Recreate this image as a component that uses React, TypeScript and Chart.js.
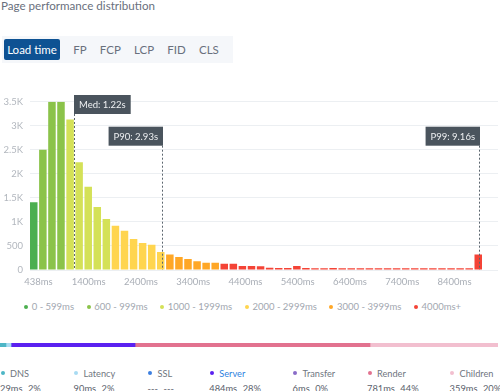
import React, { useEffect, useRef } from "react";
import { Chart, registerables } from "chart.js";

Chart.register(...registerables);

// ---------- Data ----------
const tabLabels = ["Load time", "FP", "FCP", "LCP", "FID", "CLS"];

// histogram bins (bin centre in ms) and page-load counts
const binCenterMs = [
  349, 523, 697, 870, 1044, 1217, 1391, 1564, 1738, 1912,
  2085, 2259, 2432, 2606, 2779, 2953, 3127, 3300, 3474, 3647,
  3821, 3994, 4168, 4341, 4515, 4689, 4862, 5036, 5209, 5383,
  5556, 5730, 5904, 6077, 6251, 6424, 6598, 6771, 6945, 7119,
  7292, 7466, 7639, 7813, 7986, 8160, 8334, 8507, 8681, 8854,
];
const binCounts = [
  1410, 2500, 3500, 3500, 3130, 2240, 1730, 1310, 1060, 920,
  815, 645, 560, 525, 375, 322, 268, 228, 183, 150,
  150, 128, 128, 85, 82, 76, 45, 42, 44, 83,
  40, 38, 37, 40, 38, 38, 37, 38, 38, 37,
  38, 37, 38, 38, 37, 38, 37, 38, 38, 320,
];
// colour bucket of every bin (index into bucketLabels)
const binBucket = [
  0, 1, 1, 1, 2, 2, 2, 2, 2, 3,
  3, 3, 3, 3, 3, 4, 4, 4, 4, 4,
  4, 5, 5, 5, 5, 5, 5, 5, 5, 5,
  5, 5, 5, 5, 5, 5, 5, 5, 5, 5,
  5, 5, 5, 5, 5, 5, 5, 5, 5, 5,
];
const bucketLabels = ["0 - 599ms", "600 - 999ms", "1000 - 1999ms", "2000 - 2999ms", "3000 - 3999ms", "4000ms+"];
const bucketColors = ["#4caf50", "#8bc34a", "#d4e157", "#ffd54f", "#ffa726", "#f44336"];

const xTickValues = [438, 1400, 2400, 3400, 4400, 5400, 6400, 7400, 8400];
const xMin = 277;
const xMax = 9232;
const yMax = 3500;
const yStep = 500;

// percentile markers
const markerLabels = ["Med: 1.22s", "P90: 2.93s", "P99: 9.16s"];
const markerAxisMs = [1119, 2812, 8875];
const markerSide = ["right", "left", "left"];
const markerRow = [0, 1, 1];

// timing breakdown
const phaseNames = ["DNS", "Latency", "SSL", "Server", "Transfer", "Render", "Children"];
const phaseMs = ["29ms", "90ms", "---", "484ms", "6ms", "781ms", "359ms"];
const phasePct = ["2%", "2%", "---", "28%", "0%", "44%", "20%"];
const phaseBarShare = [1.2, 1.0, 0, 24.9, 0, 47.2, 25.7];
const phaseColors = ["#4db6c6", "#a8dbf2", "#3d7fe0", "#5b21f0", "#8a6cc8", "#e2728f", "#f2bfcf"];
const highlightedPhase = "Server";

// layout (column left edges of the breakdown legend)
const phaseColumnLeft = [0, 73.6, 147.6, 209.3, 292.6, 367, 449.6];

const FONT = "Lato, 'Noto Sans', sans-serif";

const markerPlugin = {
  id: "percentileMarkers",
  afterDatasetsDraw(chart: any) {
    const { ctx, chartArea, scales } = chart;
    const x = scales.x;
    ctx.save();
    ctx.font = `9.5px ${FONT}`;
    markerLabels.forEach((text, k) => {
      const px = Math.round(x.getPixelForValue(markerAxisMs[k])) + 0.5;
      const tw = ctx.measureText(text).width;
      const bw = tw + 10;
      const bh = 19;
      const top = markerRow[k] === 0 ? chartArea.top - 6.7 : chartArea.top + 25;
      const left = markerSide[k] === "right" ? px - 0.5 : px + 0.5 - bw;
      ctx.strokeStyle = "#5b656e";
      ctx.lineWidth = 1;
      ctx.setLineDash([2, 2]);
      ctx.beginPath();
      ctx.moveTo(px, top + bh);
      ctx.lineTo(px, chartArea.bottom);
      ctx.stroke();
      ctx.setLineDash([]);
      ctx.fillStyle = "#4a545d";
      ctx.fillRect(left, top, bw, bh);
      ctx.fillStyle = "#eef0f2";
      ctx.textAlign = "center";
      ctx.textBaseline = "middle";
      ctx.fillText(text, left + bw / 2, top + bh / 2 + 0.5);
    });
    ctx.restore();
  },
};

function Histogram() {
  const ref = useRef<HTMLCanvasElement | null>(null);
  useEffect(() => {
    if (!ref.current) return;
    const datasets = bucketLabels.map((label, b) => ({
      label,
      data: binCenterMs
        .map((x, i) => (binBucket[i] === b ? { x, y: binCounts[i] } : null))
        .filter((d) => d !== null),
      backgroundColor: bucketColors[b],
      borderWidth: 0,
      grouped: false,
      barPercentage: 0.83,
      categoryPercentage: 1,
    }));
    const chart = new Chart(ref.current, {
      type: "bar",
      data: { datasets } as any,
      options: {
        animation: false,
        responsive: false,
        devicePixelRatio: 1,
        events: [],
        layout: { padding: { top: 31.7, right: 2, bottom: 6.6, left: 0 } },
        plugins: { legend: { display: false }, tooltip: { enabled: false } },
        scales: {
          x: {
            type: "linear",
            min: xMin,
            max: xMax,
            offset: false,
            grid: { display: false, drawTicks: false },
            border: { display: false },
            afterBuildTicks: (sc: any) => {
              sc.ticks = xTickValues.map((v) => ({ value: v }));
            },
            ticks: {
              autoSkip: false,
              maxRotation: 0,
              padding: 6,
              color: "#a9aeb6",
              font: { family: FONT, size: 9.5 },
              callback: (v: any) => `${v}ms`,
            },
          },
          y: {
            min: 0,
            max: yMax,
            grid: { color: "#eceff2", drawTicks: false },
            border: { display: false },
            afterFit: (sc: any) => {
              sc.width = 30;
            },
            ticks: {
              stepSize: yStep,
              padding: 7,
              color: "#b2b7be",
              font: { family: FONT, size: 9.5 },
              callback: (v: any) => (v >= 1000 ? `${v / 1000}K` : `${v}`),
            },
          },
        },
      } as any,
      plugins: [markerPlugin],
    });
    return () => chart.destroy();
  }, []);
  return <canvas ref={ref} width={500} height={230} style={{ display: "block" }} />;
}

function BreakdownBar() {
  const ref = useRef<HTMLCanvasElement | null>(null);
  useEffect(() => {
    if (!ref.current) return;
    const chart = new Chart(ref.current, {
      type: "bar",
      data: {
        labels: [""],
        datasets: phaseNames.map((name, i) => ({
          label: name,
          data: [phaseBarShare[i]],
          backgroundColor: phaseColors[i],
          borderWidth: 0,
          barPercentage: 1,
          categoryPercentage: 1,
          stack: "s",
        })),
      },
      options: {
        animation: false,
        responsive: false,
        devicePixelRatio: 1,
        events: [],
        indexAxis: "y",
        layout: { padding: 0 },
        plugins: { legend: { display: false }, tooltip: { enabled: false } },
        scales: {
          x: { display: false, stacked: true, min: 0, max: 100 },
          y: { display: false, stacked: true },
        },
      } as any,
    });
    return () => chart.destroy();
  }, []);
  return <canvas ref={ref} width={498} height={4} style={{ display: "block" }} />;
}

export default function App() {
  useEffect(() => {
    document.body.style.margin = "0";
  }, []);
  return (
    <div
      style={{
        position: "relative",
        width: 500,
        height: 391,
        overflow: "hidden",
        fontFamily: FONT,
        background: "#fff",
      }}
    >
      <div
        style={{
          position: "absolute",
          left: 1,
          top: -1,
          fontSize: 11.6,
          color: "#69707d",
          whiteSpace: "nowrap",
        }}
      >
        Page performance distribution
      </div>

      <div
        style={{
          position: "absolute",
          left: 2,
          top: 36,
          width: 231,
          height: 27,
          background: "#f5f7fa",
          display: "flex",
          alignItems: "center",
          fontSize: 11.5,
        }}
      >
        {tabLabels.map((t, i) =>
          i === 0 ? (
            <div
              key={t}
              style={{
                marginLeft: 2,
                width: 56,
                height: 21,
                lineHeight: "21px",
                textAlign: "center",
                background: "#0e5293",
                color: "#fff",
                borderRadius: 2,
              }}
            >
              {t}
            </div>
          ) : (
            <div key={t} style={{ marginLeft: 13.2, color: "#69707d" }}>
              {t}
            </div>
          )
        )}
      </div>

      <div style={{ position: "absolute", left: 0, top: 70 }}>
        <Histogram />
      </div>

      <div
        style={{
          position: "absolute",
          left: 24,
          top: 300,
          display: "flex",
          alignItems: "center",
          fontSize: 9.5,
          color: "#a2a7b0",
          lineHeight: "13px",
          whiteSpace: "nowrap",
        }}
      >
        {bucketLabels.map((l, i) => (
          <div key={l} style={{ display: "flex", alignItems: "center", marginRight: 12.5 }}>
            <span
              style={{
                width: 4,
                height: 4,
                borderRadius: 2,
                background: bucketColors[i],
                marginRight: 3.7,
                display: "inline-block",
              }}
            />
            {l}
          </div>
        ))}
      </div>

      <div style={{ position: "absolute", left: 0, top: 343 }}>
        <BreakdownBar />
      </div>

      {phaseNames.map((n, i) => (
        <div
          key={n}
          style={{
            position: "absolute",
            left: phaseColumnLeft[i],
            top: 366,
            whiteSpace: "nowrap",
          }}
        >
          <div
            style={{
              display: "flex",
              alignItems: "center",
              height: 14,
              fontSize: 9.2,
              color: n === highlightedPhase ? "#2f7fe0" : "#6f7680",
            }}
          >
            <span
              style={{
                width: 4,
                height: 4,
                borderRadius: 2,
                background: phaseColors[i],
                marginLeft: 0.7,
                marginRight: 5.3,
                display: "inline-block",
              }}
            />
            {n}
          </div>
          <div style={{ marginTop: 3, color: "#5a616c", height: 14, fontSize: 9.3 }}>
            <span>{phaseMs[i]}</span>
            <span style={{ marginLeft: 5.5 }}>{phasePct[i]}</span>
          </div>
        </div>
      ))}
    </div>
  );
}
